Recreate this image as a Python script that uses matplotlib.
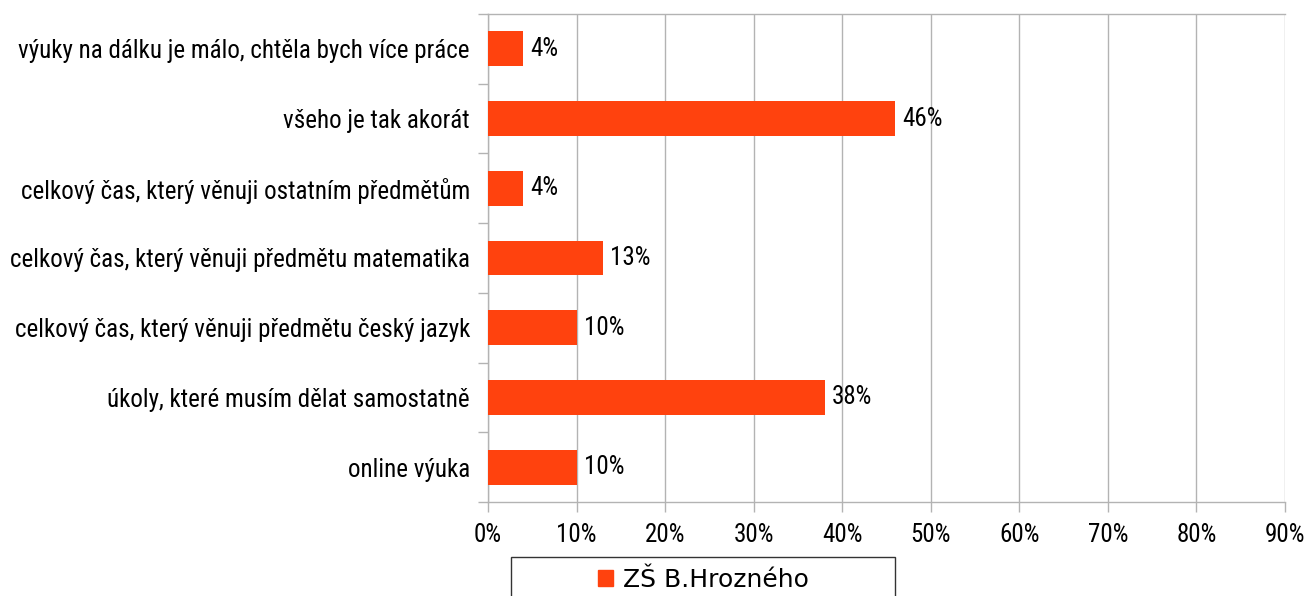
import matplotlib.pyplot as plt
from matplotlib.patches import Rectangle
import numpy as np

# Data (bottom to top, as drawn)
categories = [
    'online výuka',
    'úkoly, které musím dělat samostatně',
    'celkový čas, který věnuji předmětu český jazyk',
    'celkový čas, který věnuji předmětu matematika',
    'celkový čas, který věnuji ostatním předmětům',
    'všeho je tak akorát',
    'výuky na dálku je málo, chtěla bych více práce',
]
values = [10, 38, 10, 13, 4, 46, 4]
series_name = 'ZŠ B.Hrozného'
x_ticks = [0, 10, 20, 30, 40, 50, 60, 70, 80, 90]

BAR = '#ff420e'
GRID = '#b3b3b3'
NARROW = ['Roboto Condensed', 'DejaVu Sans']
FS = 18

W, H = 1310, 596
fig = plt.figure(figsize=(W / 100, H / 100), dpi=100)
ax = fig.add_axes([488 / W, 94 / H, (1285 - 488) / W, (582 - 94) / H])

y = np.arange(len(categories))
ax.barh(y, values, height=0.5, color=BAR, zorder=3)
for yi, v in zip(y, values):
    ax.text(v + 0.8, yi, f'{v}%', va='center', ha='left',
            family=NARROW, fontsize=FS, color='black', zorder=4)

ax.set_xlim(0, 90)
ax.set_ylim(-0.5, len(categories) - 0.5)
ax.set_xticks(x_ticks)
ax.set_xticklabels([f'{t}%' for t in x_ticks], family=NARROW, fontsize=FS)
ax.set_yticks(y)
ax.set_yticklabels(categories, family=NARROW, fontsize=FS)
ax.set_yticks(np.arange(-0.5, len(categories)), minor=True)

ax.tick_params(axis='y', which='major', length=0, pad=13)
ax.tick_params(axis='y', which='minor', length=7, color=GRID, width=1)
ax.tick_params(axis='x', length=7, color=GRID, width=1, pad=8)

ax.grid(axis='x', color=GRID, linewidth=1, zorder=0)
for side in ['left', 'bottom', 'top']:
    ax.spines[side].set_color(GRID)
    ax.spines[side].set_linewidth(1)
ax.spines['right'].set_visible(False)

# legend box at the bottom, cut by the image edge
fig.patches.append(Rectangle((511 / W, -0.05), (895 - 511) / W, 0.05 + (596 - 557) / H,
                             transform=fig.transFigure, facecolor='white',
                             edgecolor='#333333', linewidth=1))
handle = Rectangle((0, 0), 1, 1, color=BAR)
fig.legend([handle], [series_name], loc='center', frameon=False,
           bbox_to_anchor=(703 / W, 1 - 580 / H),
           handlelength=0.6, handleheight=0.6, handletextpad=0.4,
           prop={'family': 'DejaVu Sans', 'size': 18})

fig.savefig('out.png', dpi=100)
